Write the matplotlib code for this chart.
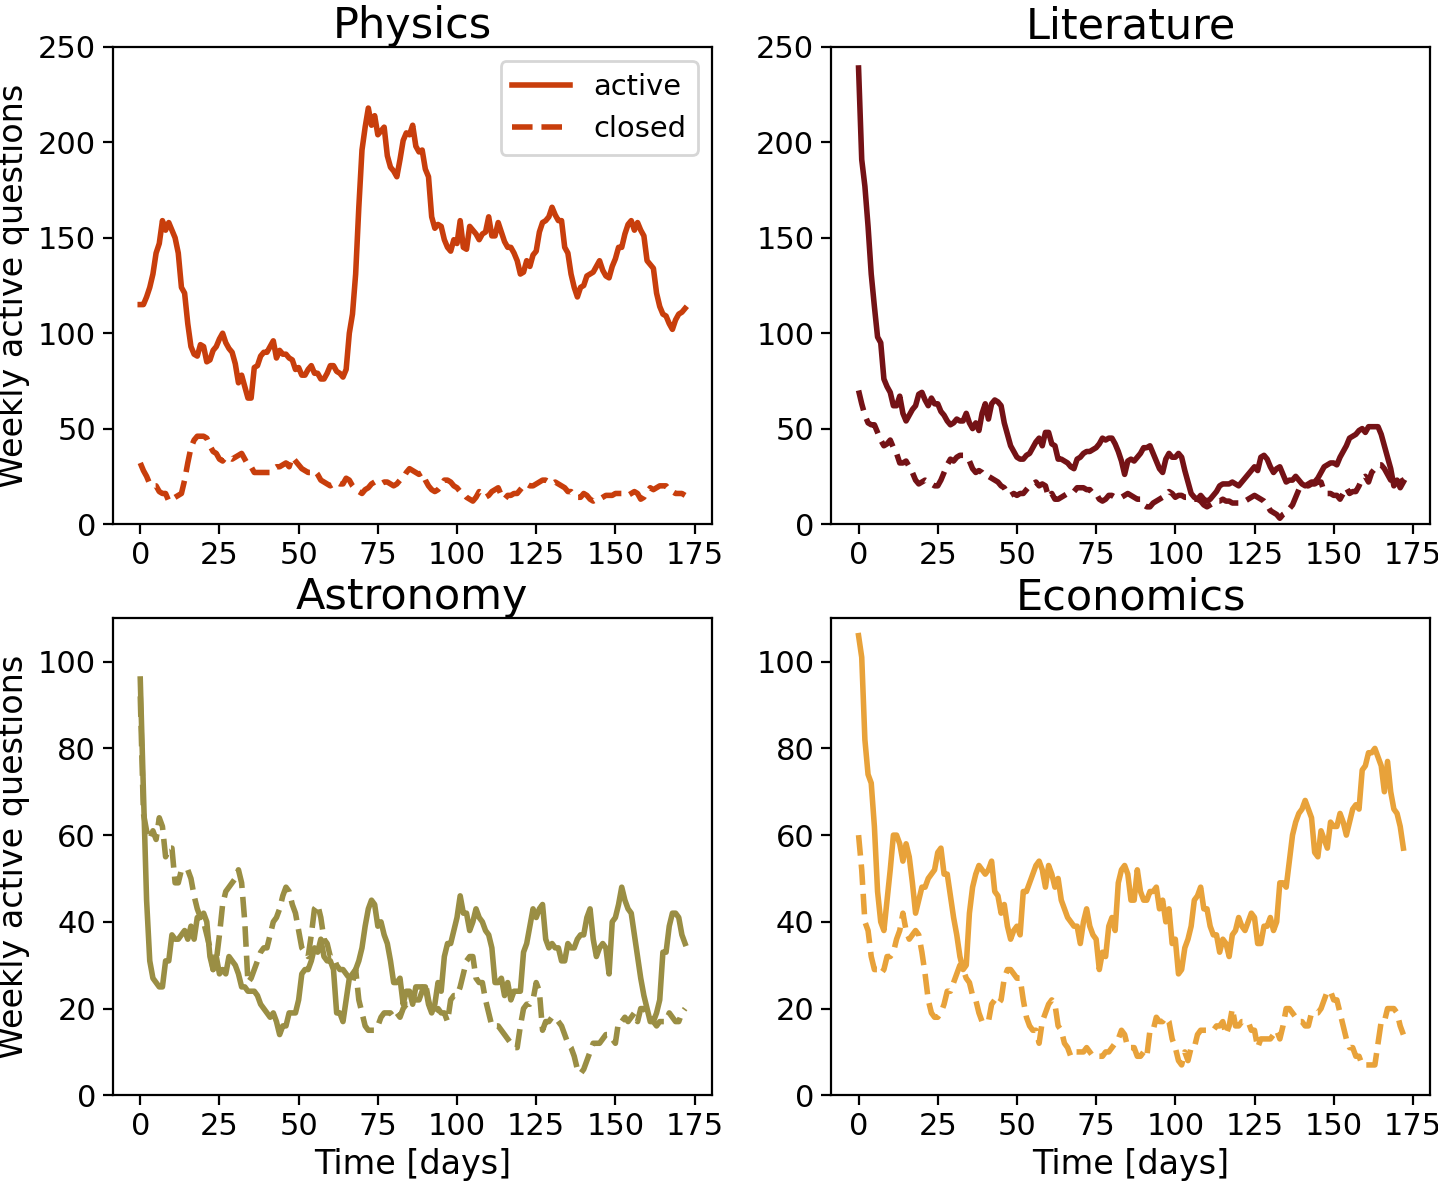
import matplotlib
matplotlib.use("Agg")
import matplotlib.pyplot as plt
import numpy as np

days = list(range(173))

physics_active = [
    115,115,119,124,131,142,147,159,154,158,
    154,150,142,124,121,105,93,89,88,94,
    93,85,86,91,93,97,100,95,92,90,
    84,74,78,72,66,66,82,83,88,90,
    90,93,96,87,91,89,89,87,86,81,
    82,78,78,81,83,79,79,76,76,79,
    83,83,80,79,77,81,100,110,131,166,
    196,208,218,209,214,204,206,208,193,187,
    185,182,191,201,205,204,209,198,195,196,
    186,182,161,155,157,156,149,145,143,149,
    147,159,145,144,156,154,152,149,152,153,
    161,151,151,158,153,148,145,145,142,138,
    131,132,138,135,141,143,153,158,159,161,
    166,162,159,159,145,142,131,124,119,124,
    125,130,131,132,135,138,133,130,129,135,
    139,145,145,152,157,159,154,158,154,151,
    138,136,134,121,114,110,109,105,102,107,
    110,111,113]
physics_closed = [
    32,28,25,21,20,20,17,16,16,12,
    13,14,15,16,23,32,40,44,46,46,
    46,45,41,38,37,34,33,35,35,34,
    35,36,37,34,31,30,27,27,27,27,
    27,27,29,30,30,31,32,30,35,33,
    31,29,28,27,27,28,26,23,22,21,
    20,21,22,21,21,24,23,20,18,17,
    16,18,19,21,22,21,21,22,22,21,
    20,21,23,24,27,29,28,27,26,27,
    23,20,18,17,18,20,23,23,22,20,
    19,17,16,14,13,12,14,17,16,14,
    15,17,18,19,15,13,15,15,16,16,
    18,20,21,20,20,21,22,23,23,22,
    21,22,21,20,19,17,17,15,14,14,
    16,15,13,12,13,13,14,15,15,15,
    16,16,16,16,15,16,17,16,13,14,
    17,19,18,19,20,20,20,18,17,16,
    16,16,15]

literature_active = [
    239,191,177,156,131,114,98,95,76,72,
    69,62,62,67,58,54,57,60,62,68,
    69,65,62,66,63,63,59,57,54,52,
    53,55,54,54,58,53,50,53,49,58,
    63,55,63,65,64,62,53,47,41,38,
    35,34,34,36,37,40,43,45,41,48,
    48,42,41,34,34,33,32,30,29,34,
    35,37,38,38,39,40,42,45,44,45,
    45,42,38,33,26,33,34,33,35,37,
    40,40,41,37,33,29,27,34,37,35,
    35,37,35,28,22,16,14,13,15,13,
    12,13,15,17,20,21,21,21,22,21,
    20,22,24,26,28,30,28,35,36,34,
    30,27,29,30,26,22,23,23,25,23,
    21,20,21,22,22,24,27,30,31,32,
    32,31,35,38,41,45,46,47,49,50,
    48,51,51,51,51,47,41,35,29,20,
    23,19,22]
literature_closed = [
    70,63,57,53,52,52,48,44,41,42,
    44,40,37,32,32,33,30,27,23,21,
    22,23,22,21,20,20,23,27,31,34,
    33,35,36,36,35,33,29,27,28,27,
    25,25,24,23,22,20,19,16,15,16,
    15,16,16,18,20,21,22,20,21,20,
    14,16,13,13,14,15,16,16,17,19,
    19,19,18,18,16,16,13,12,13,15,
    15,14,14,14,15,16,15,14,13,13,
    10,9,9,11,12,13,14,15,17,16,
    14,15,15,14,14,13,13,13,12,10,
    9,10,11,12,12,13,12,12,11,11,
    11,11,12,13,14,15,14,13,12,10,
    7,6,5,3,5,6,8,10,14,18,
    19,20,20,21,21,22,22,17,16,16,
    15,15,13,16,19,16,17,17,20,24,
    25,22,27,29,31,31,29,26,23,23,
    23,24,21]

astronomy_active = [
    96,70,45,31,27,26,25,25,31,31,
    37,36,36,37,38,36,39,36,41,41,
    42,40,32,29,32,28,29,28,32,31,
    30,28,25,25,24,24,24,23,21,20,
    19,18,19,17,14,16,16,19,19,19,
    22,28,29,29,31,34,33,36,32,31,
    31,29,19,19,17,22,27,28,29,31,
    34,39,43,45,44,39,40,37,35,31,
    26,26,27,21,24,24,21,25,25,25,
    25,21,19,21,26,24,32,35,35,38,
    41,46,42,42,38,40,43,41,40,38,
    37,34,26,26,27,23,26,22,24,24,
    24,33,35,39,43,41,43,44,36,34,
    35,34,34,31,31,35,34,34,36,37,
    37,41,43,36,32,34,35,34,28,40,
    41,44,48,45,43,42,37,32,27,23,
    20,17,17,19,22,33,33,39,42,42,
    41,37,35]
astronomy_closed = [
    92,65,61,59,61,59,64,62,55,57,
    57,49,49,52,52,52,50,46,43,41,
    40,37,34,29,31,37,44,47,48,49,
    50,52,49,40,26,27,29,31,33,34,
    34,37,40,41,43,46,48,47,44,42,
    38,34,33,32,37,43,44,41,36,35,
    32,32,30,29,29,28,27,26,29,22,
    19,16,15,15,15,16,18,19,19,19,
    18,19,18,20,21,21,22,22,22,24,
    26,22,19,19,20,19,19,17,22,23,
    23,25,28,31,32,32,27,26,26,22,
    19,16,16,16,15,14,13,12,11,11,
    16,20,21,21,22,26,24,15,17,17,
    18,18,17,16,14,12,11,9,6,5,
    6,8,10,12,12,12,13,14,14,13,
    12,17,17,18,17,18,19,17,20,20,
    19,19,17,16,17,17,17,19,18,17,
    17,19,20]

economics_active = [
    106,101,82,74,72,62,47,40,38,45,
    52,60,60,58,54,58,55,49,42,45,
    48,48,50,51,52,56,57,51,51,46,
    41,37,32,29,30,42,48,51,53,52,
    51,52,54,47,46,42,44,39,36,38,
    39,37,47,47,49,51,53,54,52,48,
    53,51,48,50,45,43,41,40,39,39,
    35,40,43,39,37,36,29,33,32,39,
    41,38,49,52,53,51,45,45,52,47,
    45,45,47,47,48,43,45,40,43,35,
    36,28,29,34,36,39,45,46,48,43,
    43,39,37,37,33,36,35,32,37,38,
    41,39,38,40,42,41,35,35,39,39,
    41,38,40,49,49,48,54,60,63,65,
    66,68,66,64,56,55,61,59,57,63,
    62,62,65,63,60,63,66,67,66,75,
    76,79,79,80,78,76,70,77,70,66,
    65,62,57]
economics_closed = [
    60,52,40,38,32,29,29,28,29,32,
    32,33,36,38,42,38,36,37,38,37,
    33,28,22,19,18,18,19,21,24,24,
    26,28,30,29,27,26,23,22,19,17,
    17,17,21,22,21,22,27,29,29,28,
    27,27,22,18,16,15,15,12,17,19,
    21,22,21,16,15,12,11,9,10,10,
    10,10,11,10,9,9,9,9,10,10,
    11,12,13,15,14,11,11,11,9,9,
    10,9,15,15,18,17,17,18,17,13,
    11,8,7,10,8,11,11,14,15,15,
    15,15,15,16,16,17,14,16,20,16,
    16,17,17,17,15,15,11,13,13,13,
    13,14,15,13,16,20,20,19,18,17,
    17,16,16,19,19,19,20,22,24,24,
    22,22,19,16,13,11,11,9,9,7,
    7,7,7,7,12,17,17,20,20,20,
    19,16,14]

titles = ["Physics", "Literature", "Astronomy", "Economics"]
colors = ["#c83e0c", "#741216", "#9a8e44", "#e8a23a"]
actives = [physics_active, literature_active, astronomy_active, economics_active]
closeds = [physics_closed, literature_closed, astronomy_closed, economics_closed]
ylims = [(0, 250), (0, 250), (0, 110), (0, 110)]

W, H = 1438, 1182
fig = plt.figure(figsize=(W / 200, H / 200), dpi=200)
lefts = [112.7, 831]
tops = [47, 618.3]
aw, ah = 599.3, 477
axes = []
for i in range(4):
    r, c = divmod(i, 2)
    ax = fig.add_axes([lefts[c] / W, 1 - (tops[r] + ah) / H, aw / W, ah / H])
    axes.append(ax)
    ax.plot(days, actives[i], color=colors[i], lw=2, label="active")
    ax.plot(days, closeds[i], color=colors[i], lw=2, ls="--", label="closed")
    ax.set_title(titles[i], fontsize=15.5, pad=1.5)
    ax.set_ylim(*ylims[i])
    ax.set_xlim(-8.7, 180.5)
    ax.set_xticks([0, 25, 50, 75, 100, 125, 150, 175])
    ax.tick_params(labelsize=11, pad=2.5)
    if c == 0:
        ax.set_ylabel("Weekly active questions", fontsize=12, labelpad=3)
    if r == 1:
        ax.set_xlabel("Time [days]", fontsize=12, labelpad=2.5)

axes[0].legend(loc="upper right", fontsize=10.4, handlelength=2.0)
fig.savefig("out.png", dpi=200)
